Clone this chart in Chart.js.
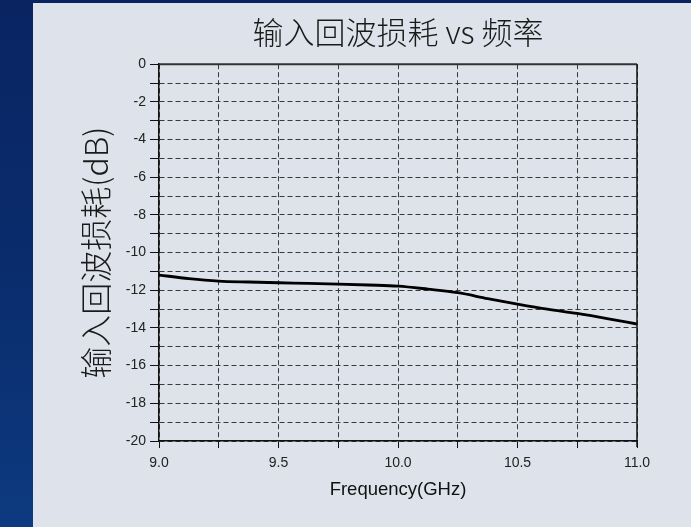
<!DOCTYPE html>
<html>
<head>
<meta charset="utf-8">
<script src="https://cdn.jsdelivr.net/npm/chart.js@4/dist/chart.umd.min.js"></script>
<style>
  html, body { margin: 0; padding: 0; background: #0a2a66; }
  #wrap { width: 691px; height: 527px; position: relative; }
  canvas { display: block; }
</style>
</head>
<body>
<div id="wrap"><canvas id="c" width="691" height="527"></canvas></div>
<script>
// ---- data ----
const chartTitle = '输入回波损耗 vs 频率';
const xAxisTitle = 'Frequency(GHz)';
const yAxisTitle = '输入回波损耗(dB)';
const frequencyGHz = [9.0, 9.125, 9.25, 9.375, 9.5, 9.625, 9.75, 9.875, 10.0, 10.125, 10.25, 10.375, 10.5, 10.625, 10.75, 10.875, 11.0];
const returnLossDb = [-11.19, -11.38, -11.51, -11.56, -11.60, -11.63, -11.67, -11.72, -11.78, -11.94, -12.13, -12.44, -12.73, -13.00, -13.23, -13.50, -13.79];
const xTickMajorStep = 0.5;
const yTickMajorStep = 2;

const points = frequencyGHz.map((f, i) => ({ x: f, y: returnLossDb[i] }));

const FONT = "'Liberation Sans', Arial, sans-serif";
const CJK = "'Noto Sans CJK SC', 'Liberation Sans', sans-serif";

const backdrop = {
  id: 'backdrop',
  beforeDraw(chart) {
    const ctx = chart.ctx;
    const w = chart.width, h = chart.height;
    ctx.save();
    const g = ctx.createLinearGradient(0, 0, 0, h);
    g.addColorStop(0, '#0a2462');
    g.addColorStop(0.5, '#0a2c6c');
    g.addColorStop(1, '#0d3a80');
    ctx.fillStyle = g;
    ctx.fillRect(0, 0, w, h);
    ctx.fillStyle = '#dee2ea';
    ctx.fillRect(33, 3, w - 33, h - 3);
    ctx.restore();
  },
  afterDatasetsDraw(chart) {
    const { ctx, chartArea: a } = chart;
    ctx.save();
    ctx.strokeStyle = '#333';
    ctx.lineWidth = 2;
    ctx.beginPath();
    ctx.moveTo(a.left, a.top);
    ctx.lineTo(a.right, a.top);
    ctx.stroke();
    ctx.strokeStyle = '#111';
    ctx.lineWidth = 1.5;
    ctx.beginPath();
    ctx.moveTo(a.right, a.top);
    ctx.lineTo(a.right, a.bottom + 6);
    ctx.stroke();
    ctx.restore();
  }
};

new Chart(document.getElementById('c'), {
  type: 'line',
  data: {
    datasets: [{
      data: points,
      borderColor: '#000',
      borderWidth: 2.8,
      pointRadius: 0,
      cubicInterpolationMode: 'monotone',
      fill: false
    }]
  },
  options: {
    responsive: false,
    animation: false,
    layout: { padding: { left: 77, right: 54, top: 0, bottom: 0 } },
    plugins: {
      legend: { display: false },
      tooltip: { enabled: false },
      title: {
        display: true,
        text: chartTitle,
        fullSize: false,
        color: '#1a1a1a',
        font: { family: CJK, size: 31, weight: 300, lineHeight: 1.2 },
        padding: { top: 14, bottom: 13 }
      }
    },
    scales: {
      x: {
        type: 'linear',
        min: 9,
        max: 11,
        afterFit(scale) { scale.height = 86; },
        ticks: {
          stepSize: 0.25,
          autoSkip: false,
          maxRotation: 0,
          padding: 7,
          color: '#222',
          font: { family: FONT, size: 14 },
          callback(v) {
            const r = Math.round(v / xTickMajorStep);
            return Math.abs(v - r * xTickMajorStep) < 1e-6 ? v.toFixed(1) : '';
          }
        },
        grid: {
          color: '#3a3a3a',
          lineWidth: 1,
          tickLength: 7,
          tickColor: '#111',
          drawOnChartArea: true
        },
        border: { display: true, color: '#111', width: 1.5, dash: [5, 3] },
        title: {
          display: true,
          text: xAxisTitle,
          color: '#111',
          font: { family: FONT, size: 18.5 },
          padding: { top: 0, bottom: 26 }
        }
      },
      y: {
        type: 'linear',
        min: -20,
        max: 0,
        afterFit(scale) { scale.width = 82; },
        ticks: {
          stepSize: 1,
          autoSkip: false,
          padding: 4,
          color: '#222',
          font: { family: FONT, size: 14 },
          callback(v) {
            return Math.round(v) % yTickMajorStep === 0 ? String(Math.round(v)) : '';
          }
        },
        grid: {
          color: '#3a3a3a',
          lineWidth: 1,
          tickLength: 9,
          tickColor: '#111',
          drawOnChartArea: true
        },
        border: { display: true, color: '#111', width: 1.5, dash: [5, 3] },
        title: {
          display: true,
          text: yAxisTitle,
          color: '#1a1a1a',
          font: { family: CJK, size: 32, weight: 300, lineHeight: 1.2 },
          padding: { top: 0, bottom: 0 }
        }
      }
    }
  },
  plugins: [backdrop]
});
</script>
</body>
</html>
